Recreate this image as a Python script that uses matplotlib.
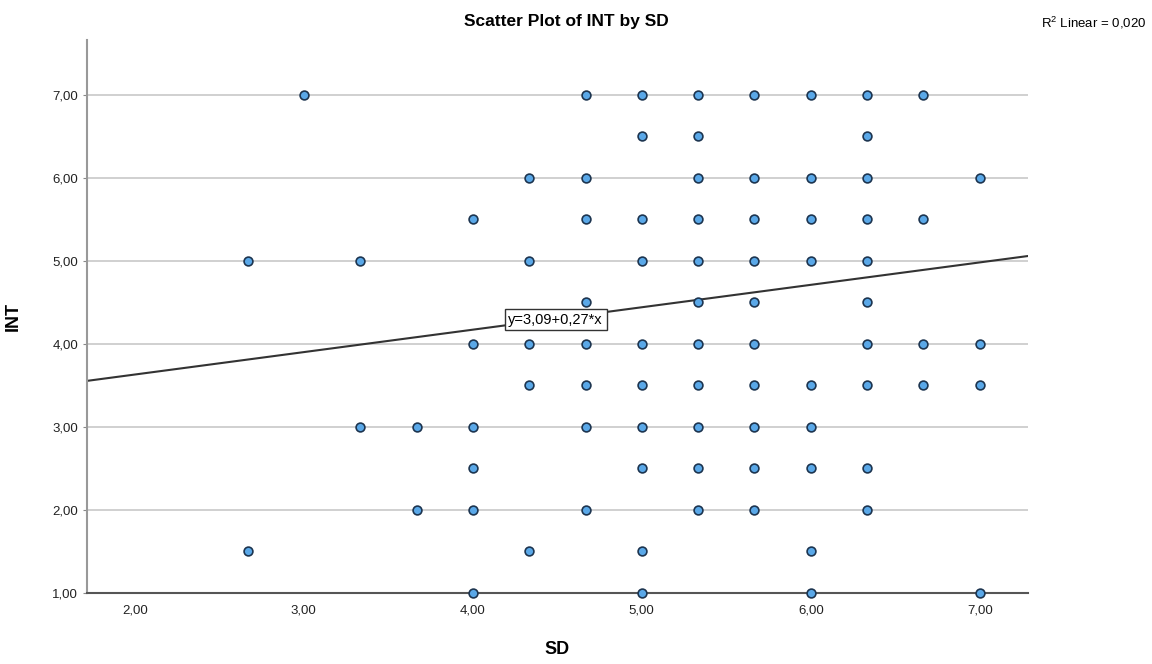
import matplotlib.pyplot as plt
import numpy as np

plt.rcParams['font.family'] = ['Liberation Sans', 'DejaVu Sans']

# SD values come in thirds, INT values in halves
x_7_0 = [3.0, 4.667, 5.0, 5.333, 5.667, 6.0, 6.333, 6.667]
x_6_5 = [5.0, 5.333, 6.333]
x_6_0 = [4.333, 4.667, 5.333, 5.667, 6.0, 6.333, 7.0]
x_5_5 = [4.0, 4.667, 5.0, 5.333, 5.667, 6.0, 6.333, 6.667]
x_5_0 = [2.667, 3.333, 4.333, 5.0, 5.333, 5.667, 6.0, 6.333]
x_4_5 = [4.667, 5.333, 5.667, 6.333]
x_4_0 = [4.0, 4.333, 4.667, 5.0, 5.333, 5.667, 6.333, 6.667, 7.0]
x_3_5 = [4.333, 4.667, 5.0, 5.333, 5.667, 6.0, 6.333, 6.667, 7.0]
x_3_0 = [3.333, 3.667, 4.0, 4.667, 5.0, 5.333, 5.667, 6.0]
x_2_5 = [4.0, 5.0, 5.333, 5.667, 6.0, 6.333]
x_2_0 = [3.667, 4.0, 4.667, 5.333, 5.667, 6.333]
x_1_5 = [2.667, 4.333, 5.0, 6.0]
x_1_0 = [4.0, 5.0, 6.0, 7.0]

rows = {7.0: x_7_0, 6.5: x_6_5, 6.0: x_6_0, 5.5: x_5_5, 5.0: x_5_0,
        4.5: x_4_5, 4.0: x_4_0, 3.5: x_3_5, 3.0: x_3_0, 2.5: x_2_5,
        2.0: x_2_0, 1.5: x_1_5, 1.0: x_1_0}

intercept = 3.09
slope = 0.27
r2 = 0.020

sd = np.concatenate([np.array(v) for v in rows.values()])
inte = np.concatenate([np.full(len(v), k) for k, v in rows.items()])

fig = plt.figure(figsize=(11.52, 6.64), dpi=100)
ax = fig.add_axes([0.0755, 0.107, 0.8165, 0.833])

xlim = (1.717, 7.283)
ylim = (1.0, 7.66)

for yv in range(1, 8):
    ax.axhline(yv, color='#c8c8c8', lw=1.2, zorder=1)

xs = np.array(xlim)
ax.plot(xs, intercept + slope * xs, color='#333333', lw=1.5, zorder=2)

ax.scatter(sd, inte, s=40, facecolor='#5aa8e8', edgecolor='#1d3550',
           linewidth=1.2, zorder=3, clip_on=False)

ax.text(4.49, 4.29, 'y=3,09+0,27*x', fontsize=10.5, ha='center', va='center',
        bbox=dict(boxstyle='square,pad=0.25', fc='white', ec='#333333', lw=1),
        zorder=4)

ax.set_xlim(xlim)
ax.set_ylim(ylim)
ax.set_xticks([2, 3, 4, 5, 6, 7])
ax.set_yticks([1, 2, 3, 4, 5, 6, 7])
ax.set_xticklabels([f'{v:.2f}'.replace('.', ',') for v in range(2, 8)])
ax.set_yticklabels([f'{v:.2f}'.replace('.', ',') for v in range(1, 8)])
ax.tick_params(labelsize=9.5, length=3, color='#888888', colors='#222222')
ax.tick_params(axis='x', length=0, pad=8)

for side in ['top', 'right']:
    ax.spines[side].set_visible(False)
ax.spines['left'].set_color('#999999')
ax.spines['left'].set_linewidth(1.5)
ax.spines['bottom'].set_color('#555555')
ax.spines['bottom'].set_linewidth(1.5)

ax.set_xlabel('SD', fontsize=13, fontweight='bold', labelpad=18)
ax.set_ylabel('INT', fontsize=13, fontweight='bold', labelpad=22)
fig.text(0.492, 0.967, 'Scatter Plot of INT by SD', fontsize=12.5,
         fontweight='bold', ha='center', va='center')
fig.text(0.995, 0.966, '$\\mathregular{R^2}$ Linear = 0,020', fontsize=9.5,
         ha='right', va='center')

fig.savefig('out.png', dpi=100)
